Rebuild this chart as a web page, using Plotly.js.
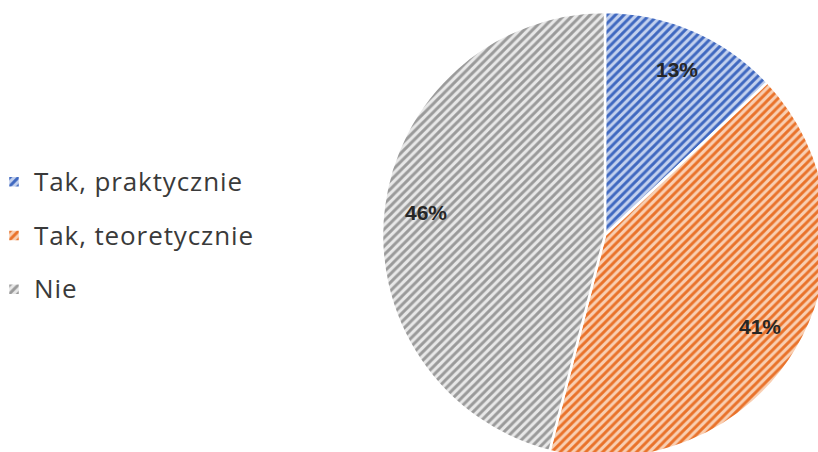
<!DOCTYPE html>
<html>
<head>
<meta charset="utf-8">
<script src="https://cdn.plot.ly/plotly-3.0.1.min.js"></script>
<style>
html,body{margin:0;padding:0;overflow:hidden;background:#fff;width:818px;height:452px;}
#chart{position:relative;left:-6px;width:846px;height:470px;}
</style>
</head>
<body>
<div id="chart"></div>
<script>
const categories = ["Tak, praktycznie", "Tak, teoretycznie", "Nie"];
const values = [13, 41, 46];
const lineColors = ["#3F68C0", "#E9722A", "#9A9A9A"];
const fillColors = ["#C3D1EE", "#F9CFB2", "#E8E8E8"];

const legendLabels = categories.map(c =>
  '<span style="font-size:26px;letter-spacing:0.9px;baseline-shift:6px">' + c + '</span>');

const shift = 6;
const W = 846, H = 470;
const cx = 605 + shift, cy = 235, R = 223;
const labelRadius = 0.81;

const total = values.reduce((a, b) => a + b, 0);
let cum = 0;
const annotations = values.map(v => {
  const mid = (cum + v / 2) / total * 2 * Math.PI;
  cum += v;
  return {
    xref: "paper", yref: "paper",
    x: (cx + labelRadius * R * Math.sin(mid)) / W,
    y: 1 - (cy - labelRadius * R * Math.cos(mid)) / H,
    text: Math.round(v / total * 100) + "%",
    showarrow: false,
    xanchor: "center", yanchor: "middle",
    font: {family: "Liberation Sans, Arial, sans-serif", size: 21, color: "#262626", weight: "bold"}
  };
});

const trace = {
  type: "pie",
  labels: legendLabels,
  values: values,
  sort: false,
  direction: "clockwise",
  rotation: 0,
  textinfo: "none",
  hoverinfo: "label+percent",
  marker: {
    colors: fillColors,
    line: {color: "#ffffff", width: 2.5},
    pattern: {shape: "/", size: 6, solidity: 0.48, fgcolor: lineColors, bgcolor: fillColors, fillmode: "replace"}
  },
  domain: {x: [(cx - R) / W, (cx + R) / W], y: [(H - cy - R) / H, (H - cy + R) / H]}
};

const layout = {
  width: W, height: H,
  margin: {l: 0, r: 0, t: 0, b: 0},
  paper_bgcolor: "#ffffff",
  showlegend: true,
  annotations: annotations,
  legend: {
    x: 0, xanchor: "left",
    y: 1 - 236 / H, yanchor: "middle",
    font: {family: "Open Sans, sans-serif", size: 39, color: "#3a3a3a"},
    bgcolor: "rgba(0,0,0,0)"
  }
};

Plotly.newPlot("chart", [trace], layout, {displayModeBar: false, staticPlot: true});
</script>
</body>
</html>
